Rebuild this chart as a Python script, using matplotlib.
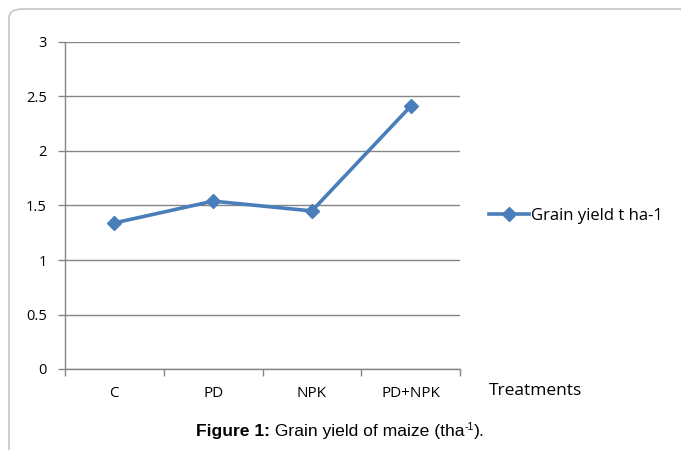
import matplotlib
matplotlib.use("Agg")
import matplotlib.pyplot as plt
from matplotlib.patches import FancyBboxPatch

categories = ["C", "PD", "NPK", "PD+NPK"]
grain_yield = [1.34, 1.54, 1.45, 2.41]
y_ticks = [0, 0.5, 1, 1.5, 2, 2.5, 3]
y_tick_labels = ["0", "0.5", "1", "1.5", "2", "2.5", "3"]
series_name = "Grain yield t ha-1"
x_title = "Treatments"
caption_bold = "Figure 1:"
caption_main = " Grain yield of maize (tha"
caption_sup = "-1"
caption_end = ")."

W, H = 681, 450
fig = plt.figure(figsize=(W/100, H/100), dpi=100)

# outer frame
frame = FancyBboxPatch((9/W, -0.1), 1.2, 1.1 - 9/H, transform=fig.transFigure,
                       boxstyle="round,pad=0,rounding_size=0.02", fill=False,
                       edgecolor="#c6c6c6", linewidth=1.2)
fig.patches.append(frame)

ax = fig.add_axes([65/W, (H-369)/H, (460-65)/W, (369-42)/H])
x = list(range(len(categories)))
line_color = "#4A7EBB"
ax.plot(x, grain_yield, color=line_color, linewidth=2.6, marker="D",
        markersize=7.5, label=series_name, zorder=3)
ax.set_xlim(-0.5, len(categories) - 0.5)
ax.set_ylim(0, 3)
ax.set_yticks(y_ticks)
ax.set_yticklabels(y_tick_labels, fontfamily="Open Sans", fontsize=10.5)
ax.set_xticks(x)
ax.set_xticklabels(categories, fontfamily="Open Sans", fontsize=11)
ax.tick_params(axis="x", which="major", length=0, pad=12)
ax.set_xticks([i - 0.5 for i in range(len(categories) + 1)], minor=True)
ax.tick_params(axis="x", which="minor", length=5, color="#868686", width=1)
ax.tick_params(axis="y", length=5, color="#868686", width=1, pad=8)
ax.grid(axis="y", color="#868686", linewidth=1)
ax.set_axisbelow(True)
for s in ["top", "right"]:
    ax.spines[s].set_visible(False)
for s in ["left", "bottom"]:
    ax.spines[s].set_color("#868686")
    ax.spines[s].set_linewidth(1)

fig.text(489/W, 1 - 391/H, x_title, fontfamily="Open Sans", fontsize=12.5,
         va="center", ha="left")

leg = ax.legend(loc="center left", bbox_to_anchor=(482/W, 1 - 216/H),
                bbox_transform=fig.transFigure, frameon=False,
                prop={"family": "Open Sans", "size": 12},
                handlelength=2.4, handletextpad=0.15, borderaxespad=0)

# caption composed of pieces
renderer = fig.canvas.get_renderer()
cap_y = 1 - 436/H
fs = 12.6
pieces = [
    (caption_bold, dict(fontweight="bold", fontsize=fs), 0),
    (caption_main, dict(fontsize=fs), 0),
    (caption_sup, dict(fontsize=fs * 0.6), 6 / H),
    (caption_end, dict(fontsize=fs), 0),
]
texts = []
total = 0
for s, kw, dy in pieces:
    t = fig.text(0, cap_y + dy, s, fontfamily="Liberation Sans", ha="left",
                 va="baseline", **kw)
    w = t.get_window_extent(renderer).width
    texts.append((t, w))
    total += w
xpos = (340 - total / 2)
for t, w in texts:
    t.set_x(xpos / W)
    xpos += w

fig.savefig("out.png", dpi=100)
